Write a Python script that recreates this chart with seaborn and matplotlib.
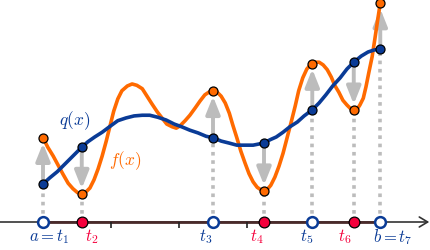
import matplotlib
matplotlib.use("Agg")
import matplotlib.pyplot as plt
import seaborn as sns
import pandas as pd

sns.set_style("white")
plt.rcParams["mathtext.fontset"] = "cm"

# f(x)
f_x = [0.00, 0.07, 0.15, 0.22, 0.29, 0.37, 0.44, 0.51, 0.57, 0.63, 0.69, 0.75, 0.81, 0.87,
       0.93, 0.99, 1.04, 1.10, 1.16, 1.24, 1.31, 1.38, 1.46, 1.53, 1.60, 1.68, 1.75, 1.82,
       1.90, 1.96, 2.01, 2.09, 2.16, 2.24, 2.31, 2.38, 2.44, 2.50, 2.56, 2.62, 2.68, 2.74,
       2.79, 2.85, 2.91, 2.97, 3.03, 3.09, 3.15, 3.21, 3.25, 3.29, 3.35, 3.41, 3.47, 3.53,
       3.59, 3.65, 3.71, 3.76, 3.82, 3.88, 3.94, 4.00, 4.06, 4.12, 4.18, 4.24, 4.29, 4.35,
       4.41, 4.47, 4.53, 4.57, 4.62, 4.66, 4.71, 4.75, 4.79, 4.84, 4.88, 4.92, 4.96]
f_y = [1.24, 1.10, 0.97, 0.84, 0.71, 0.57, 0.49, 0.43, 0.41, 0.44, 0.50, 0.62, 0.78, 0.97,
       1.19, 1.43, 1.63, 1.81, 1.93, 2.00, 2.03, 2.01, 1.96, 1.85, 1.74, 1.62, 1.53, 1.44,
       1.40, 1.38, 1.41, 1.49, 1.57, 1.68, 1.78, 1.87, 1.91, 1.93, 1.91, 1.85, 1.75, 1.60,
       1.43, 1.24, 1.04, 0.87, 0.71, 0.59, 0.51, 0.47, 0.46, 0.47, 0.54, 0.66, 0.82, 1.01,
       1.24, 1.47, 1.71, 1.93, 2.12, 2.25, 2.32, 2.35, 2.35, 2.31, 2.24, 2.13, 2.01, 1.91,
       1.79, 1.72, 1.66, 1.65, 1.66, 1.72, 1.82, 1.99, 2.19, 2.43, 2.69, 2.96, 3.22]

# q(x), best approximation
q_x = [0.00, 0.10, 0.21, 0.31, 0.41, 0.51, 0.57, 0.66, 0.76, 0.87, 0.99, 1.10, 1.22, 1.34,
       1.46, 1.57, 1.69, 1.81, 1.93, 2.04, 2.16, 2.28, 2.40, 2.50, 2.62, 2.74, 2.85, 2.97,
       3.09, 3.19, 3.25, 3.34, 3.43, 3.53, 3.63, 3.74, 3.84, 3.96, 4.06, 4.16, 4.26, 4.37,
       4.47, 4.57, 4.68, 4.78, 4.87, 4.96]
q_y = [0.56, 0.65, 0.74, 0.84, 0.94, 1.04, 1.10, 1.18, 1.25, 1.32, 1.41, 1.49, 1.53, 1.56,
       1.57, 1.57, 1.54, 1.50, 1.44, 1.40, 1.35, 1.31, 1.26, 1.24, 1.19, 1.16, 1.13, 1.13,
       1.13, 1.15, 1.16, 1.21, 1.25, 1.32, 1.40, 1.47, 1.56, 1.65, 1.75, 1.87, 2.00, 2.12,
       2.25, 2.35, 2.44, 2.50, 2.53, 2.54]

# alternation points
t_vals = [0.00, 0.57, 2.50, 3.25, 3.96, 4.57, 4.96]
f_at_t = [1.24, 0.41, 1.93, 0.46, 2.33, 1.65, 3.22]
q_at_t = [0.56, 1.10, 1.24, 1.16, 1.65, 2.35, 2.54]
t_labels = [r"$a = t_1$", r"$t_2$", r"$t_3$", r"$t_4$", r"$t_5$", r"$t_6$", r"$b = t_7$"]
tick_vals = [1, 2, 3, 4, 5]

ORANGE = "#ff6a00"
BLUE = "#0a3b96"
RED = "#f5003c"
GRAY = "#bcbcbc"

fig = plt.figure(figsize=(4.31, 2.51), dpi=100)
ax = fig.add_axes([0, 0, 1, 1])
ax.set_xlim(-43 / 68, 388 / 68)
ax.set_ylim(-28 / 68, 223 / 68)
ax.axis("off")

# x axis with arrow, interval [a, b] darker
ax.annotate("", xy=(5.68, 0), xytext=(-0.65, 0),
            arrowprops=dict(arrowstyle="->,head_length=0.5,head_width=0.3", color="#333333",
                            lw=1.2, shrinkA=0, shrinkB=0, mutation_scale=12), zorder=1)
ax.plot([t_vals[0], t_vals[-1]], [0, 0], color="#4a2a2a", lw=2, zorder=1.5)
ax.plot(tick_vals, [0] * len(tick_vals), ls="none", marker=3, ms=4, mew=1.2, color="#222222", zorder=1.5)

# dotted drop lines and error arrows
for t, fv, qv in zip(t_vals, f_at_t, q_at_t):
    ax.plot([t, t], [0, min(fv, qv)], color=GRAY, lw=2.6, ls=(0, (1, 1.3)), zorder=2)
    ax.annotate("", xy=(t, fv), xytext=(t, qv),
                arrowprops=dict(arrowstyle="-|>,head_length=0.75,head_width=0.3", color=GRAY,
                                lw=2.8, shrinkA=0, shrinkB=4, mutation_scale=14), zorder=2)

df_f = pd.DataFrame({"x": f_x, "y": f_y})
df_q = pd.DataFrame({"x": q_x, "y": q_y})
sns.lineplot(data=df_f, x="x", y="y", color=ORANGE, lw=2.6, sort=False, ax=ax, zorder=3)
sns.lineplot(data=df_q, x="x", y="y", color=BLUE, lw=2.6, sort=False, ax=ax, zorder=3)

# points on the curves
ax.scatter(t_vals, f_at_t, s=42, color=ORANGE, edgecolor="black", linewidth=0.9, zorder=5)
ax.scatter(t_vals, q_at_t, s=42, color=BLUE, edgecolor="black", linewidth=0.9, zorder=5)

# points on the axis
open_idx = [0, 2, 4, 6]
fill_idx = [1, 3, 5]
ax.scatter([t_vals[i] for i in open_idx], [0] * len(open_idx), s=60, facecolor="white",
           edgecolor=BLUE, linewidth=1.8, zorder=6)
ax.scatter([t_vals[i] for i in fill_idx], [0] * len(fill_idx), s=60, color=RED,
           edgecolor="black", linewidth=0.9, zorder=6)

label_dx = [6, 10, -7, -7, -6, -9, 13]
for i, (t, lab) in enumerate(zip(t_vals, t_labels)):
    col = BLUE if i in open_idx else RED
    ax.annotate(lab, xy=(t, 0), xytext=(label_dx[i], -14), textcoords="offset pixels",
                ha="center", va="center", fontsize=12, color=col)

ax.text(0.47, 1.51, r"$q(x)$", fontsize=12.5, color=BLUE, ha="center", va="center")
ax.text(1.21, 0.91, r"$f(x)$", fontsize=12.5, color=ORANGE, ha="center", va="center")

fig.savefig("out.png", dpi=100)
